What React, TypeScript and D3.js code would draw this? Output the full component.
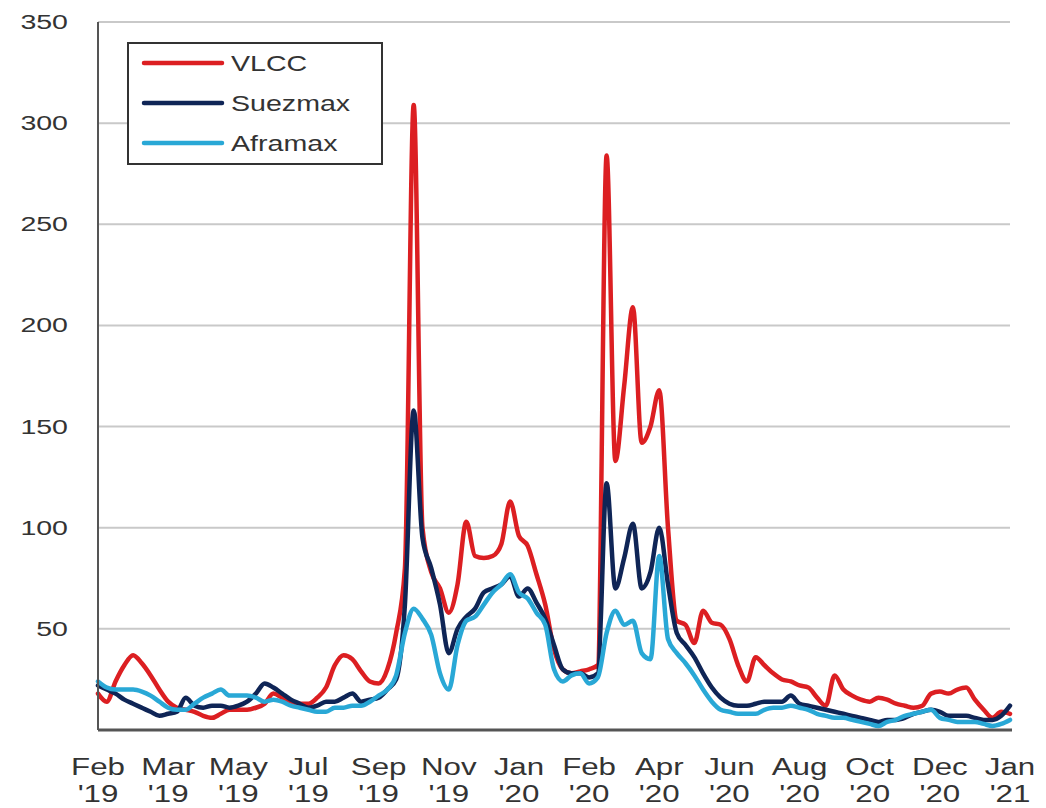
import React from "react";
import * as d3 from "d3";

const seriesNames = ["VLCC", "Suezmax", "Aframax"];
const seriesColors = ["#dc1f22", "#0f2556", "#29a8d6"];

const vlcc = [
  18, 14, 24, 32, 37, 33, 27, 20, 14, 11,
  10, 9, 7, 6, 8, 10, 10, 10, 11, 13,
  18, 16, 14, 13, 13, 16, 21, 32, 37, 35,
  29, 24, 23, 30, 48, 80, 309, 100, 78, 70,
  58, 72, 103, 86, 85, 86, 92, 113, 96, 91,
  77, 62, 40, 30, 28, 29, 30, 32, 284, 133,
  170, 209, 142, 150, 168, 100, 54, 52, 43, 59,
  53, 52, 45, 32, 24, 36, 32, 28, 25, 24,
  22, 21, 16, 12, 27, 20, 17, 15, 14, 16,
  15, 13, 12, 11, 12, 18, 19, 18, 20, 21,
  15, 10, 6, 9, 8,
];

const suezmax = [
  22, 20, 18, 15, 13, 11, 9, 7, 8, 9,
  16, 12, 11, 12, 12, 11, 12, 14, 18, 23,
  21, 18, 15, 13, 11, 12, 14, 14, 16, 18,
  14, 15, 16, 20, 25, 62, 158, 95, 80, 62,
  38, 50, 56, 60, 68, 70, 72, 76, 66, 70,
  63, 55, 42, 30, 28, 28, 26, 28, 122, 70,
  85, 102, 70, 78, 100, 72, 48, 42, 36, 28,
  21, 16, 13, 12, 12, 13, 14, 14, 14, 17,
  13, 12, 11, 10, 9, 8, 7, 6, 5, 4,
  5, 5, 6, 8, 9, 10, 9, 7, 7, 7,
  6, 5, 5, 7, 12,
];

const aframax = [
  24, 21, 20, 20, 20, 19, 17, 14, 11, 10,
  10, 13, 16, 18, 20, 17, 17, 17, 16, 14,
  15, 14, 12, 11, 10, 9, 9, 11, 11, 12,
  12, 14, 17, 20, 27, 48, 60, 55, 47, 28,
  20, 42, 54, 56, 62, 68, 72, 77, 68, 65,
  58, 52, 30, 24, 27, 28, 23, 26, 48, 59,
  52, 54, 38, 35, 86, 45, 38, 33, 27, 20,
  14, 10, 9, 8, 8, 8, 10, 11, 11, 12,
  11, 10, 8, 7, 6, 6, 5, 4, 3, 2,
  4, 5, 7, 8, 9, 10, 6, 5, 4, 4,
  4, 3, 2, 3, 5,
];

const yTicks = [50, 100, 150, 200, 250, 300, 350];
const startDate = new Date(2019, 1, 1);
const tickEveryWeeks = 8;

const W = 1046;
const H = 808;
const M = { left: 98, right: 1010, top: 22, bottom: 730 };
const SX = 1.36; // horizontal text stretch

export default function App() {
  const dates = vlcc.map((_, i) => d3.timeDay.offset(startDate, 7 * i));
  const x = d3
    .scaleTime()
    .domain([dates[0], dates[dates.length - 1]])
    .range([M.left, M.right]);
  const y = d3.scaleLinear().domain([0, 350]).range([M.bottom, M.top]);
  const allSeries = [vlcc, suezmax, aframax];
  const line = d3
    .line<number>()
    .x((_, i) => x(dates[i]))
    .y((d) => y(d))
    .curve(d3.curveMonotoneX);
  const tickDates = dates.filter((_, i) => i % tickEveryWeeks === 0);
  const fmtM = d3.timeFormat("%b");
  const fmtY = d3.timeFormat("'%y");
  const font = "'Liberation Sans', Arial, sans-serif";
  const textCol = "#333";

  return (
    <svg
      width={W}
      height={H}
      style={{ position: "absolute", left: 0, top: 0, background: "#fff" }}
      fontFamily={font}
    >
      {yTicks.map((t) => (
        <line key={"g" + t} x1={M.left} x2={M.right} y1={y(t)} y2={y(t)} stroke="#c9c9c9" strokeWidth={2} />
      ))}
      {yTicks.map((t) => (
        <text
          key={"yl" + t}
          transform={`translate(68,${y(t) + 7}) scale(${SX},1)`}
          textAnchor="end"
          fontSize={21}
          fill={textCol}
        >
          {t}
        </text>
      ))}
      {allSeries.map((s, k) => (
        <path
          key={"s" + k}
          d={line(s) || ""}
          fill="none"
          stroke={seriesColors[k]}
          strokeWidth={4.5}
          strokeLinejoin="round"
          strokeLinecap="round"
        />
      ))}
      <line x1={M.left} x2={M.left} y1={M.top} y2={M.bottom} stroke="#555" strokeWidth={2} />
      <line x1={M.left} x2={M.right + 2} y1={M.bottom} y2={M.bottom} stroke="#555" strokeWidth={3} />
      {tickDates.map((d, i) => (
        <g key={"xl" + i}>
          <text
            transform={`translate(${x(d)},775) scale(${SX},1)`}
            textAnchor="middle"
            fontSize={23}
            fill={textCol}
          >
            {fmtM(d)}
          </text>
          <text
            transform={`translate(${x(d)},802) scale(${SX},1)`}
            textAnchor="middle"
            fontSize={23}
            fill={textCol}
          >
            {fmtY(d)}
          </text>
        </g>
      ))}
      <rect x={128} y={43} width={254} height={121} fill="#fff" stroke="#333" strokeWidth={2} />
      {seriesNames.map((n, k) => (
        <g key={"lg" + k}>
          <line
            x1={144}
            x2={222}
            y1={63 + 40 * k}
            y2={63 + 40 * k}
            stroke={seriesColors[k]}
            strokeWidth={4.5}
            strokeLinecap="round"
          />
          <text
            transform={`translate(231,${71 + 40 * k}) scale(1.3,1)`}
            fontSize={22}
            fill={textCol}
          >
            {n}
          </text>
        </g>
      ))}
    </svg>
  );
}
